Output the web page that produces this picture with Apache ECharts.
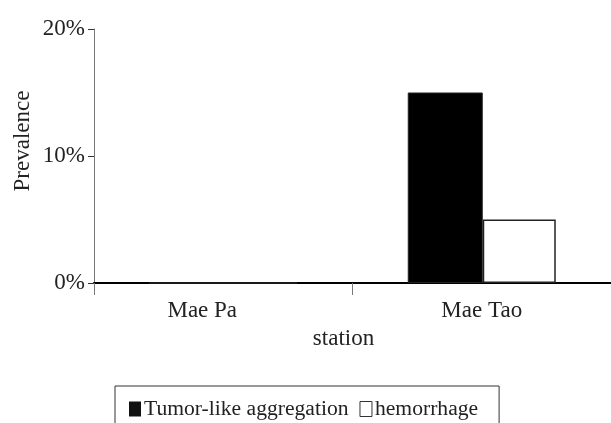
<!DOCTYPE html>
<html><head><meta charset="utf-8">
<script src="https://cdn.jsdelivr.net/npm/echarts@6/dist/echarts.min.js"></script>
<style>html,body{margin:0;padding:0;background:#fff}#c{width:611px;height:423px}</style>
</head><body><div id="c"></div>
<script>
const categories = ['Mae Pa', 'Mae Tao'];
const tumorLike = [0, 15];
const hemorrhage = [0, 5];
const yTicks = [0, 10, 20];

const F = 'Liberation Serif, Times New Roman, serif';
const FS = 23;
const chart = echarts.init(document.getElementById('c'));
chart.setOption({
  animation: false,
  textStyle: { fontFamily: F, color: '#222' },
  grid: { left: 94, top: 29, width: 520, height: 254 },
  legend: {
    left: 115, top: 386,
    data: [
      { name: 'Tumor-like aggregation', icon: 'rect', itemStyle: { color: '#111', borderColor: '#111', borderWidth: 0 } },
      { name: 'hemorrhage', icon: 'rect', itemStyle: { color: '#fff', borderColor: '#333', borderWidth: 1 } }
    ],
    itemWidth: 12, itemHeight: 15, itemGap: 11,
    borderColor: '#333', borderWidth: 1,
    padding: [12, 21, 30, 14],
    textStyle: { fontFamily: F, fontSize: 21.6, color: '#222', padding: [0, 0, 0, -2] }
  },
  xAxis: {
    type: 'category', data: categories,
    name: 'station', nameLocation: 'middle', nameGap: 44,
    nameTextStyle: { fontFamily: F, fontSize: FS, color: '#222', padding: [0, 18, 0, 0] },
    axisLine: { lineStyle: { color: '#000', width: 2 } },
    axisTick: { show: true, length: 12, lineStyle: { color: '#777', width: 1 } },
    axisLabel: {
      fontFamily: F, fontSize: FS, color: '#222', margin: 16,
      formatter: function (v, i) { return i === 0 ? '{a|' + v + '}' : '{b|' + v + '}'; },
      rich: {
        a: { fontFamily: F, fontSize: FS, color: '#222', padding: [0, 42, 0, 0] },
        b: { fontFamily: F, fontSize: FS, color: '#222' }
      }
    }
  },
  yAxis: {
    type: 'value', min: 0, max: 20, interval: 10,
    name: 'Prevalence', nameLocation: 'middle', nameGap: 60, nameRotate: 90,
    nameMoveOverlap: false,
    nameTextStyle: { fontFamily: F, fontSize: FS, color: '#222', padding: [0, 0, 0, 30] },
    axisLine: { show: true, lineStyle: { color: '#777', width: 1 } },
    axisTick: { show: true, length: 6, lineStyle: { color: '#333', width: 1 } },
    splitLine: { show: false },
    axisLabel: {
      fontFamily: F, fontSize: FS, color: '#222', margin: 9,
      formatter: function (v) { return yTicks.indexOf(v) >= 0 ? v + '%' : ''; }
    }
  },
  series: [
    { name: 'Tumor-like aggregation', type: 'bar', data: tumorLike, barWidth: 75, barGap: '0%',
      itemStyle: { color: '#000', borderColor: '#222', borderWidth: 1 } },
    { name: 'hemorrhage', type: 'bar', data: hemorrhage, barWidth: 73,
      itemStyle: { color: '#fff', borderColor: '#222', borderWidth: 1.5 } }
  ]
});
</script></body></html>
